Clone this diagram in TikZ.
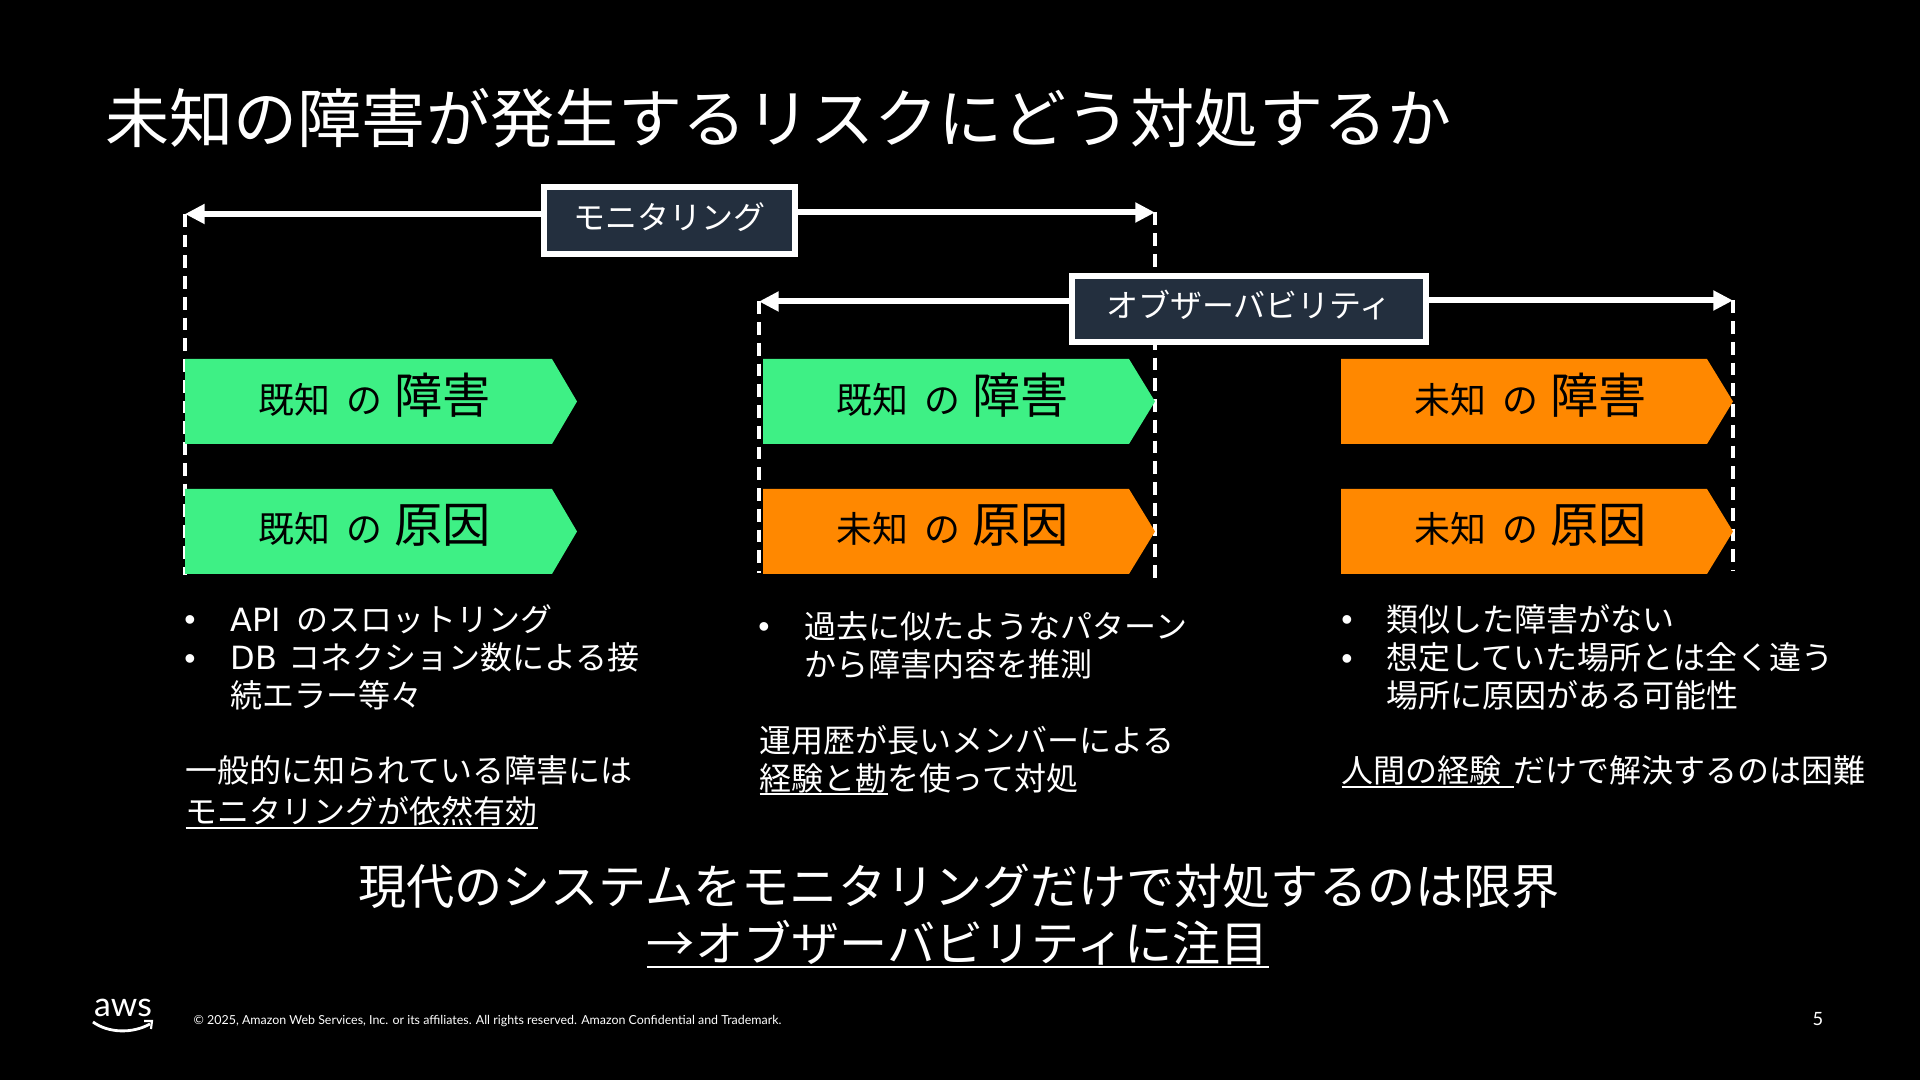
\documentclass[tikz,border=0pt]{standalone}
\usepackage{fontspec}
\usetikzlibrary{arrows.meta}
\setmainfont{Noto Sans CJK JP}
\newfontfamily\latinfont{Lato}
\newfontfamily\widefont{DejaVu Sans}
\newfontfamily\bulletfont{Liberation Sans}
\definecolor{knowncol}{HTML}{3EF085}
\definecolor{unknowncol}{HTML}{FF8800}
\definecolor{labelcol}{HTML}{232F3E}
\newcommand{\smalltag}{\fontsize{10.2}{12}\selectfont}
\newcommand{\bigtag}{\fontsize{13.7}{15}\selectfont}
\newcommand{\tagtext}[2]{{\smalltag #1\hspace{4.6pt}の\hspace{3.4pt}}{\bigtag #2}}
\newcommand{\ulined}[3]{\leavevmode\setbox0\hbox{#3}\rlap{\rule[-#1]{\wd0}{#2}}\box0}
\tikzset{
  spanarrow/.style={draw=white,line width=1.7pt,-{Triangle[length=5.6pt,width=5.4pt]}},
  spandash/.style={draw=white,line width=0.95pt,dash pattern=on 3.6pt off 2.3pt},
  spanbox/.style={draw=white,fill=labelcol,line width=1.7pt,text=white,inner sep=0pt,text height=6pt,text depth=0.8pt,font=\fontsize{9.1}{11}\selectfont},
  known/.style={fill=knowncol},
  unknown/.style={fill=unknowncol},
  tag/.style={text=black,inner sep=0pt},
  body/.style={text=white,inner sep=0pt,anchor=west,align=left,font=\fontsize{9.1}{10.8}\selectfont},
  bulletmark/.style={text=white,inner sep=0pt,font=\bulletfont\fontsize{9.1}{10.8}\selectfont},
  bottomline/.style={text=white,inner sep=0pt,font=\fontsize{13.68}{16}\selectfont}
}
\begin{document}
\begin{tikzpicture}[x=0.01cm,y=-0.01cm]
\useasboundingbox (0,0) rectangle (1920,1080);
\fill[black] (0,0) rectangle (1920,1080);
% title
\node[text=white,inner sep=0pt,anchor=west,font=\fontsize{18.22}{22}\selectfont] (title) at (105,118) {未知の障害が発生するリスクにどう対処するか};
% span ends
\coordinate (monl) at (185,214);
\coordinate (monr) at (1155,212.5);
\coordinate (monlb) at (185,575);
\coordinate (monrb) at (1155,583);
\coordinate (obsl) at (759,301.5);
\coordinate (obsr) at (1733,300.5);
\coordinate (obslb) at (759,573);
\coordinate (obsrb) at (1733,571);
\draw[spandash] (monl) -- (monlb);
\draw[spandash] (monr) -- (monrb);
\draw[spandash] (obsl) -- (obslb);
\draw[spandash] (obsr) -- (obsrb);
% tags
\fill[known] (185,359) -- (552,359) -- (577,401.5) -- (552,444) -- (185,444) -- cycle;
\fill[known] (185,489) -- (552,489) -- (577,531.5) -- (552,574) -- (185,574) -- cycle;
\fill[known] (763,359) -- (1129,359) -- (1155,401.5) -- (1129,444) -- (763,444) -- cycle;
\fill[unknown] (763,489) -- (1129,489) -- (1155,531.5) -- (1129,574) -- (763,574) -- cycle;
\fill[unknown] (1341,359) -- (1707,359) -- (1733,401.5) -- (1707,444) -- (1341,444) -- cycle;
\fill[unknown] (1341,489) -- (1707,489) -- (1733,531.5) -- (1707,574) -- (1341,574) -- cycle;
\node[tag] (tag1) at (375,395) {\tagtext{既知}{障害}};
\node[tag] (tag2) at (375,525) {\tagtext{既知}{原因}};
\node[tag] (tag3) at (953,395) {\tagtext{既知}{障害}};
\node[tag] (tag4) at (953,525) {\tagtext{未知}{原因}};
\node[tag] (tag5) at (1531,395) {\tagtext{未知}{障害}};
\node[tag] (tag6) at (1531,525) {\tagtext{未知}{原因}};
% span labels
\node[spanbox,minimum width=2.51cm,minimum height=0.675cm] (monbox) at (669.5,220.5) {モニタリング};
\node[spanbox,text depth=1pt,minimum width=3.54cm,minimum height=0.66cm] (obsbox) at (1249,309) {オブザーバビリティ};
\draw[spanarrow] (monbox.west |- monl) -- (monl);
\draw[spanarrow] (monbox.east |- monr) -- (monr);
\draw[spanarrow] (obsbox.west |- obsl) -- (obsl);
\draw[spanarrow] (obsbox.east |- obsr) -- (obsr);
% column 1
\node[bulletmark] (b1) at (190,623) {•};
\node[bulletmark] (b2) at (190,662) {•};
\node[body] (col1a) at (230,657) {{\widefont API}\hspace{4.4pt}のスロットリング\\{\widefont DB}\hspace{3.2pt}コネクション数による接\\続エラー等々};
\node[body] (col1b) at (185,792) {一般的に知られている障害には\\[0.9pt]\ulined{1.4pt}{0.55pt}{モニタリングが依然有効}};
% column 2
\node[bulletmark] (b3) at (764,630) {•};
\node[body] (col2a) at (804,645) {過去に似たようなパターン\\から障害内容を推測};
\node[body] (col2b) at (759,760) {運用歴が長いメンバーによる\\\ulined{1.4pt}{0.55pt}{経験と勘}を使って対処};
% column 3
\node[bulletmark] (b4) at (1347,623) {•};
\node[bulletmark] (b5) at (1347,662) {•};
\node[body] (col3a) at (1386,657) {類似した障害がない\\想定していた場所とは全く違う\\場所に原因がある可能性};
\node[body] (col3b) at (1341,772) {\ulined{1.4pt}{0.55pt}{人間の経験\hspace{3.4pt}}だけで解決するのは困難};
% conclusion
\node[bottomline] (sum1) at (959,886) {現代のシステムをモニタリングだけで対処するのは限界};
\node[bottomline] (sum2) at (958,944.5) {\ulined{1.9pt}{0.7pt}{→オブザーバビリティに注目}};
% footer
\node[text=white,inner sep=0pt,font=\latinfont\fontsize{9.6}{11}\selectfont] (aws) at (123,1008) {aws};
\draw[white,line width=0.8pt] (93,1022) .. controls (108,1033) and (132,1034) .. (150,1024);
\draw[white,line width=0.6pt] (144,1021) -- (152,1021) -- (151,1029);
\node[text=white,inner sep=0pt,anchor=west,font=\latinfont\fontsize{3.53}{4.4}\selectfont] (copy) at (193,1021) {© 2025, Amazon Web Services, Inc. or its affiliates. All rights reserved. Amazon Confidential and Trademark.};
\node[text=white,inner sep=0pt,font=\latinfont\fontsize{5.2}{6}\selectfont] (pageno) at (1818,1019) {5};
\end{tikzpicture}
\end{document}
